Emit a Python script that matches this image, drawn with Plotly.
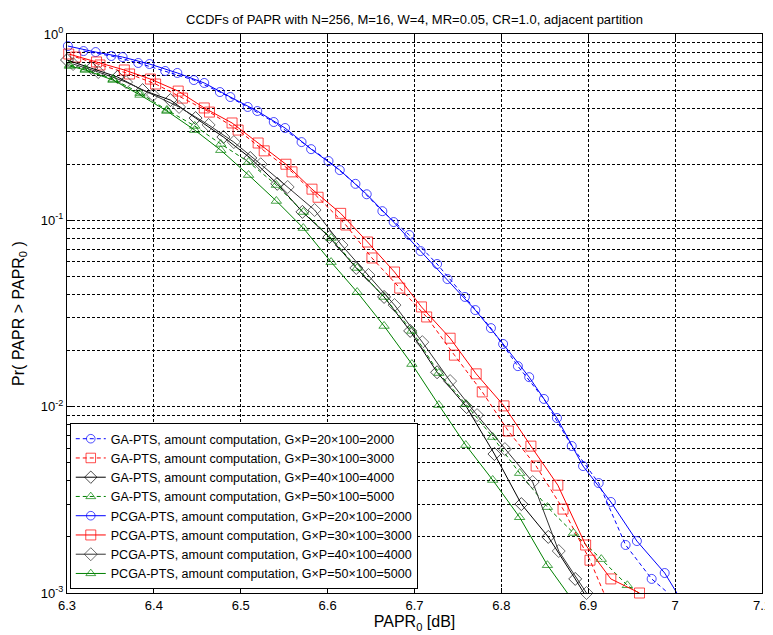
import plotly.graph_objects as go

# ---------------- data (PAPR0 in dB, CCDF probability) ----------------
# GA-PTS, G x P = 20 x 100 = 2000 (blue, dashed)
ga2000_x = [6.319, 6.351, 6.382, 6.413, 6.446, 6.476, 6.508, 6.538, 6.570, 6.601, 6.632,
            6.663, 6.694, 6.726, 6.758, 6.788, 6.819, 6.849, 6.881, 6.912, 6.943, 6.973]
ga2000_y = [0.810, 0.762, 0.699, 0.633, 0.566, 0.488, 0.406, 0.337, 0.263, 0.208, 0.157,
            0.112, 0.0834, 0.0583, 0.0388, 0.0264, 0.0165, 0.0110, 0.00615, 0.00389, 0.00181, 0.00119]
ga2000_end = (6.992, 0.001)

# GA-PTS, 3000 (red, dashed)
ga3000_x = [6.310, 6.338, 6.372, 6.402, 6.433, 6.464, 6.497, 6.527, 6.559, 6.589, 6.621,
            6.651, 6.683, 6.714, 6.746, 6.778, 6.808, 6.840, 6.871, 6.902]
ga3000_y = [0.752, 0.682, 0.610, 0.539, 0.453, 0.381, 0.305, 0.236, 0.182, 0.133, 0.0944,
            0.0628, 0.0433, 0.0303, 0.0189, 0.0120, 0.00740, 0.00480, 0.00282, 0.00150]
ga3000_end = (6.918, 0.001)

# GA-PTS, 4000 (black, solid)
ga4000_x = [6.300, 6.328, 6.358, 6.387, 6.419, 6.448, 6.480, 6.511, 6.542, 6.571, 6.602,
            6.633, 6.665, 6.695, 6.726, 6.760, 6.792, 6.823, 6.854, 6.885]
ga4000_y = [0.725, 0.657, 0.588, 0.500, 0.442, 0.354, 0.280, 0.216, 0.157, 0.111, 0.0813,
            0.0555, 0.0388, 0.0255, 0.0153, 0.00995, 0.00557, 0.00300, 0.00200, 0.00119]
ga4000_end = (6.895, 0.001)

# GA-PTS, 5000 (green, dashed)
ga5000_x = [6.303, 6.321, 6.353, 6.384, 6.415, 6.447, 6.477, 6.509, 6.541, 6.572, 6.604,
            6.634, 6.665, 6.697, 6.728, 6.759, 6.790, 6.821, 6.853, 6.883, 6.915, 6.945]
ga5000_y = [0.682, 0.649, 0.573, 0.482, 0.391, 0.321, 0.257, 0.2056, 0.1547, 0.1108, 0.0804,
            0.0555, 0.0388, 0.0255, 0.01515, 0.01033, 0.00687, 0.00440, 0.00289, 0.00210, 0.00152, 0.00110]
ga5000_end = (6.958, 0.001)

# PCGA-PTS, 2000 (blue, solid)
pc2000_x = [6.301, 6.333, 6.364, 6.395, 6.427, 6.458, 6.488, 6.519, 6.551, 6.581, 6.614,
            6.645, 6.676, 6.707, 6.738, 6.770, 6.802, 6.832, 6.864, 6.894, 6.926, 6.956, 6.988]
pc2000_y = [0.862, 0.800, 0.752, 0.690, 0.618, 0.546, 0.459, 0.386, 0.313, 0.241, 0.186,
            0.138, 0.0979, 0.0684, 0.0484, 0.0330, 0.0217, 0.0144, 0.00869, 0.00480, 0.00308, 0.00190, 0.00128]
pc2000_end = (7.002, 0.001)

# PCGA-PTS, 3000 (red, solid)
pc3000_x = [6.302, 6.334, 6.366, 6.396, 6.428, 6.458, 6.490, 6.520, 6.552, 6.582, 6.615,
            6.646, 6.677, 6.708, 6.741, 6.771, 6.803, 6.834, 6.865, 6.897, 6.926, 6.959]
pc3000_y = [0.781, 0.708, 0.641, 0.573, 0.494, 0.401, 0.333, 0.260, 0.200, 0.147, 0.109,
            0.0765, 0.0528, 0.0343, 0.0233, 0.0150, 0.0101, 0.00614, 0.00379, 0.00181, 0.00119, 0.00100]
pc3000_end = None

# PCGA-PTS, 4000 (black, solid)
pc4000_x = [6.307, 6.336, 6.368, 6.399, 6.429, 6.463, 6.492, 6.523, 6.554, 6.585, 6.616,
            6.647, 6.677, 6.709, 6.741, 6.772, 6.804, 6.836, 6.866, 6.898]
pc4000_y = [0.690, 0.625, 0.552, 0.471, 0.406, 0.325, 0.263, 0.200, 0.151, 0.1136, 0.0737,
            0.0509, 0.0351, 0.0222, 0.01372, 0.00901, 0.00592, 0.00394, 0.00168, 0.00100]
pc4000_end = None

# PCGA-PTS, 5000 (green, solid)
pc5000_x = [6.303, 6.321, 6.353, 6.384, 6.415, 6.447, 6.477, 6.509, 6.541, 6.572, 6.604,
            6.634, 6.665, 6.697, 6.728, 6.759, 6.790, 6.821, 6.853]
pc5000_y = [0.673, 0.641, 0.566, 0.471, 0.386, 0.305, 0.238, 0.175, 0.127, 0.0909, 0.0597,
            0.0412, 0.0271, 0.01693, 0.01020, 0.00622, 0.00404, 0.00255, 0.00141]
pc5000_end = (6.876, 0.001)

legend_names = [
    "GA-PTS, amount computation, G×P=20×100=2000",
    "GA-PTS, amount computation, G×P=30×100=3000",
    "GA-PTS, amount computation, G×P=40×100=4000",
    "GA-PTS, amount computation, G×P=50×100=5000",
    "PCGA-PTS, amount computation, G×P=20×100=2000",
    "PCGA-PTS, amount computation, G×P=30×100=3000",
    "PCGA-PTS, amount computation, G×P=40×100=4000",
    "PCGA-PTS, amount computation, G×P=50×100=5000",
]

x_ticks = [6.3, 6.4, 6.5, 6.6, 6.7, 6.8, 6.9, 7.0, 7.1]
x_ticktext = ["6.3", "6.4", "6.5", "6.6", "6.7", "6.8", "6.9", "7", "7.1"]
y_ticks = [1, 0.1, 0.01, 0.001]
y_ticktext = ["10<sup>0</sup>", "10<sup>-1</sup>", "10<sup>-2</sup>", "10<sup>-3</sup>"]

# ---------------- figure ----------------
series = [
    (ga2000_x, ga2000_y, ga2000_end, "#0000FF", "4px,3px", "circle-open", 9),
    (ga3000_x, ga3000_y, ga3000_end, "#FF0000", "4px,3px", "square-open", 10),
    (ga4000_x, ga4000_y, ga4000_end, "#000000", "solid", "diamond-open", 10),
    (ga5000_x, ga5000_y, ga5000_end, "#008000", "4px,3px", "triangle-up-open", 9),
    (pc2000_x, pc2000_y, pc2000_end, "#0000FF", "solid", "circle-open", 9),
    (pc3000_x, pc3000_y, pc3000_end, "#FF0000", "solid", "square-open", 10),
    (pc4000_x, pc4000_y, pc4000_end, "#333333", "solid", "diamond-open", 10),
    (pc5000_x, pc5000_y, pc5000_end, "#008000", "solid", "triangle-up-open", 9),
]

fig = go.Figure()
for (xs, ys, end, color, dash, sym, msize), name in zip(series, legend_names):
    xx = list(xs)
    yy = list(ys)
    sizes = [msize] * len(xx)
    if end is not None:
        xx.append(end[0])
        yy.append(end[1])
        sizes.append(0)
    fig.add_trace(go.Scatter(
        x=xx, y=yy, name=name, mode="lines+markers",
        line=dict(color=color, width=1, dash=dash),
        marker=dict(symbol=sym, size=sizes, color=color, line=dict(width=1, color=color)),
        cliponaxis=False,
    ))

minor_y = [m * 10.0 ** e for e in (-3, -2, -1) for m in range(2, 10)]
grid_dash = "3px,2px"

# the page adds an 8 px body margin, so the margins below are shifted by 8 px
fig.update_layout(
    width=773, height=635,
    margin=dict(l=55, r=10, t=26, b=50),
    paper_bgcolor="white", plot_bgcolor="white",
    font=dict(family="Liberation Sans, Arial, sans-serif", size=13, color="#000000"),
    title=dict(text="CCDFs of PAPR with N=256, M=16, W=4, MR=0.05, CR=1.0, adjacent partition",
               x=0.5, xref="paper", xanchor="center", y=1 - 11 / 635, yanchor="middle",
               font=dict(size=13)),
    showlegend=True,
    legend=dict(x=0.004, y=0.007, xanchor="left", yanchor="bottom",
                bgcolor="white", bordercolor="#000000", borderwidth=1,
                font=dict(size=12.5), tracegroupgap=0),
    xaxis=dict(
        range=[6.3, 7.1], tickmode="array", tickvals=x_ticks, ticktext=x_ticktext,
        showline=True, linecolor="#000000", linewidth=1, mirror="ticks",
        ticks="inside", ticklen=5, tickcolor="#000000",
        showgrid=True, gridcolor="#000000", gridwidth=1, griddash=grid_dash,
        zeroline=False,
        title=dict(text="PAPR<sub>0</sub> [dB]", standoff=4),
    ),
    yaxis=dict(
        type="log", range=[-3, 0], tickmode="array", tickvals=y_ticks, ticktext=y_ticktext,
        showline=True, linecolor="#000000", linewidth=1, mirror="ticks",
        ticks="inside", ticklen=5, tickcolor="#000000",
        showgrid=True, gridcolor="#000000", gridwidth=1, griddash=grid_dash,
        minor=dict(tickmode="array", tickvals=minor_y, ticks="inside", ticklen=3,
                   tickcolor="#000000", showgrid=True, gridcolor="#000000",
                   gridwidth=1, griddash=grid_dash),
        zeroline=False,
        title=dict(text="Pr( PAPR > PAPR<sub>0</sub> )", standoff=12),
    ),
)

fig.write_html("out.html")
